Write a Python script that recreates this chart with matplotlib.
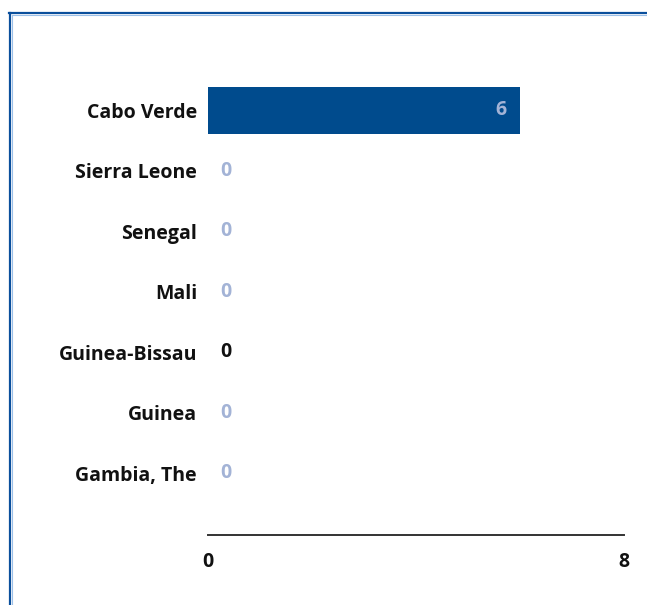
import matplotlib
matplotlib.use("Agg")
import matplotlib.pyplot as plt
from matplotlib.lines import Line2D

countries = ["Gambia, The", "Guinea", "Guinea-Bissau", "Mali", "Senegal", "Sierra Leone", "Cabo Verde"]
values = [0, 0, 0, 0, 0, 0, 6]
label_colors = ["#a3b3d6", "#a3b3d6", "#111111", "#a3b3d6", "#a3b3d6", "#a3b3d6", "#a3b3d6"]
xticks = [0, 8]

W, H = 647, 605
fig = plt.figure(figsize=(W / 100, H / 100), dpi=100)
plt.rcParams['font.family'] = ['Open Sans', 'DejaVu Sans']
FS = 14

left, right, top, bottom = 208, 624, 80, 535
ax = fig.add_axes([left / W, 1 - bottom / H, (right - left) / W, (bottom - top) / H])

ypos = list(range(len(countries)))
ax.barh(ypos, values, height=0.78, color="#004b8d")
ax.set_xlim(0, 8)
ax.set_ylim(-1.025, 6.5)

for y, v, c in zip(ypos, values, label_colors):
    if v > 0:
        ax.annotate(str(v), (v, y), xytext=(-14, 0), textcoords="offset pixels",
                    ha="right", va="center", color=c, fontsize=FS, fontweight="bold")
    else:
        ax.annotate(str(v), (v, y), xytext=(12, 0), textcoords="offset pixels",
                    ha="left", va="center", color=c, fontsize=FS, fontweight="bold")

ax.set_yticks(ypos)
ax.set_yticklabels(countries, fontsize=FS, fontweight="bold", color="#111111")
ax.set_xticks(xticks)
ax.set_xticklabels([str(t) for t in xticks], fontsize=FS, fontweight="bold", color="#111111")
ax.tick_params(axis="y", length=0, pad=8)
ax.tick_params(axis="x", length=0, pad=12)
for s in ["top", "right", "left"]:
    ax.spines[s].set_visible(False)
ax.spines["bottom"].set_color("#333333")
ax.spines["bottom"].set_linewidth(1.4)

# frame border (top and left)
fig.add_artist(Line2D([9 / W, 1], [1 - 13 / H, 1 - 13 / H], transform=fig.transFigure, color="#0a4f9c", lw=1.6))
fig.add_artist(Line2D([10 / W, 10 / W], [0, 1 - 13 / H], transform=fig.transFigure, color="#0a4f9c", lw=1.6))
fig.add_artist(Line2D([11.5 / W, 1], [1 - 14.5 / H, 1 - 14.5 / H], transform=fig.transFigure, color="#9cc0e8", lw=0.8))
fig.add_artist(Line2D([11.5 / W, 11.5 / W], [0, 1 - 14.5 / H], transform=fig.transFigure, color="#9cc0e8", lw=0.8))

fig.savefig("out.png", dpi=100)
